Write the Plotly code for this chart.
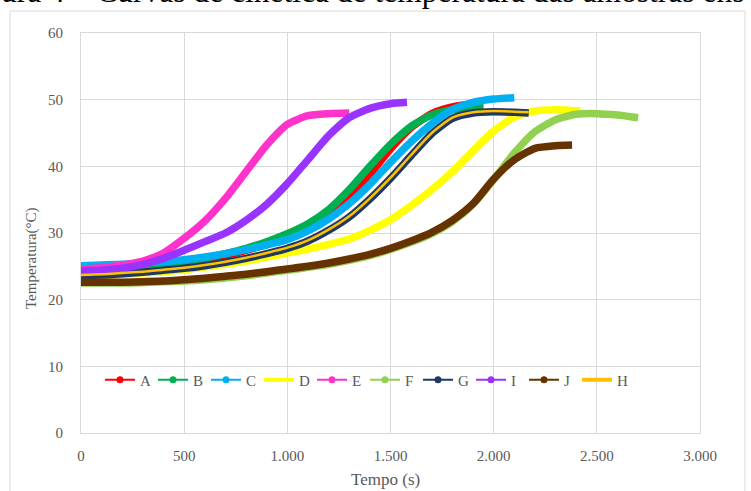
import plotly.graph_objects as go

# ---------------- data ----------------
series_names = ["A", "B", "C", "D", "E", "F", "G", "I", "J", "H"]
series_colors = ["#FF0000", "#00B050", "#00B0F0", "#FFFF00", "#FF33CC",
                 "#92D050", "#203864", "#9933FF", "#663300", "#FFC000"]

t_A = [0, 100, 200, 300, 400, 500, 600, 700, 800, 900, 1000, 1100, 1200, 1300, 1400, 1500, 1600, 1700, 1800, 1900, 1950]
T_A = [23.8, 23.9, 24.1, 24.4, 24.8, 25.3, 25.9, 26.6, 27.4, 28.3, 29.3, 30.8, 32.8, 35.6, 38.8, 42.6, 45.8, 47.9, 48.9, 49.3, 49.3]

t_B = [0, 100, 200, 300, 400, 500, 600, 700, 800, 900, 1000, 1100, 1200, 1300, 1400, 1500, 1600, 1700, 1800, 1900, 1950]
T_B = [24.0, 24.2, 24.4, 24.7, 25.1, 25.6, 26.2, 26.9, 27.7, 28.7, 29.9, 31.4, 33.5, 36.5, 40.0, 43.3, 46.0, 47.7, 48.5, 48.8, 48.9]

t_C = [0, 100, 200, 300, 400, 500, 600, 700, 800, 900, 1000, 1100, 1200, 1300, 1400, 1500, 1600, 1700, 1800, 1900, 2000, 2100]
T_C = [25.1, 25.2, 25.3, 25.5, 25.7, 26.0, 26.4, 26.9, 27.5, 28.2, 29.0, 30.3, 32.1, 34.4, 37.3, 40.6, 43.7, 46.4, 48.5, 49.6, 50.1, 50.3]

t_D = [0, 100, 200, 300, 400, 500, 600, 700, 800, 900, 1000, 1100, 1200, 1300, 1400, 1500, 1600, 1700, 1800, 1900, 2000, 2100, 2200, 2300, 2420]
T_D = [23.5, 23.6, 23.8, 24.0, 24.2, 24.5, 24.9, 25.3, 25.8, 26.4, 27.0, 27.6, 28.3, 29.1, 30.4, 32.0, 34.1, 36.5, 39.2, 42.3, 45.3, 47.4, 48.3, 48.5, 48.3]

t_E = [0, 100, 200, 300, 400, 500, 600, 700, 800, 900, 1000, 1100, 1200, 1300]
T_E = [24.6, 24.8, 25.2, 25.8, 27.0, 29.2, 31.8, 35.2, 39.2, 43.2, 46.3, 47.6, 47.9, 48.0]

t_F = [0, 200, 400, 600, 800, 1000, 1200, 1400, 1600, 1700, 1800, 1900, 2000, 2100, 2200, 2300, 2400, 2500, 2600, 2700]
T_F = [22.5, 22.5, 22.7, 23.0, 23.6, 24.4, 25.3, 26.6, 28.6, 29.9, 31.7, 34.3, 38.0, 42.0, 45.2, 47.0, 47.8, 47.9, 47.7, 47.3]

t_G = [0, 100, 200, 300, 400, 500, 600, 700, 800, 900, 1000, 1100, 1200, 1300, 1400, 1500, 1600, 1700, 1800, 1900, 2000, 2100, 2170]
T_G = [23.6, 23.7, 23.9, 24.1, 24.4, 24.7, 25.1, 25.6, 26.2, 26.9, 27.7, 28.8, 30.4, 32.4, 35.1, 38.2, 41.6, 44.9, 47.2, 48.0, 48.2, 48.1, 48.0]

t_I = [0, 100, 200, 300, 400, 500, 600, 700, 800, 900, 1000, 1100, 1200, 1300, 1400, 1500, 1580]
T_I = [24.3, 24.4, 24.7, 25.3, 26.2, 27.4, 28.7, 30.0, 31.9, 34.3, 37.4, 41.0, 44.6, 47.3, 48.7, 49.4, 49.6]

t_J = [0, 100, 200, 300, 400, 500, 600, 700, 800, 900, 1000, 1100, 1200, 1300, 1400, 1500, 1600, 1700, 1800, 1900, 2000, 2100, 2200, 2300, 2380]
T_J = [22.6, 22.6, 22.6, 22.7, 22.8, 23.0, 23.2, 23.5, 23.8, 24.2, 24.6, 25.0, 25.5, 26.1, 26.8, 27.7, 28.8, 30.1, 31.9, 34.4, 38.1, 41.0, 42.7, 43.1, 43.2]

t_H = [0, 100, 200, 300, 400, 500, 600, 700, 800, 900, 1000, 1100, 1200, 1300, 1400, 1500, 1600, 1700, 1800, 1900, 2000, 2100, 2170]
T_H = [23.7, 23.8, 24.0, 24.2, 24.5, 24.8, 25.2, 25.7, 26.3, 27.0, 27.8, 28.9, 30.5, 32.5, 35.2, 38.3, 41.7, 45.0, 47.3, 48.1, 48.3, 48.2, 48.1]

x_tickvals = [0, 500, 1000, 1500, 2000, 2500, 3000]
x_ticktext = ["0", "500", "1.000", "1.500", "2.000", "2.500", "3.000"]
y_tickvals = [0, 10, 20, 30, 40, 50, 60]

caption_text = "ura 4 – Curvas de cinética de temperatura das amostras ens"
x_title = "Tempo (s)"
y_title = "Temperatura(°C)"

# ---------------- figure ----------------
series_t = [t_A, t_B, t_C, t_D, t_E, t_F, t_G, t_I, t_J, t_H]
series_T = [T_A, T_B, T_C, T_D, T_E, T_F, T_G, T_I, T_J, T_H]
line_widths = [7.5, 7.5, 7.5, 7.5, 7.5, 7.5, 7.5, 7.5, 7.5, 2.5]

SERIF = "Liberation Serif, Times New Roman, serif"
GRAY = "#595959"
GRID = "#D9D9D9"

fig = go.Figure()

for name, col, tt, TT, lw in zip(series_names, series_colors, series_t, series_T, line_widths):
    fig.add_trace(go.Scatter(x=tt, y=TT, mode="lines", name=name, showlegend=False,
                             line=dict(color=col, width=lw, shape="spline", smoothing=0.6)))

# legend-only entries (line with marker, like the original)
for name, col in zip(series_names, series_colors):
    no_marker = name in ("D", "H")
    fig.add_trace(go.Scatter(x=[None], y=[None], name=name,
                             mode="lines" if no_marker else "lines+markers",
                             line=dict(color=col, width=4 if no_marker else 2),
                             marker=dict(color=col, size=7)))

W, H = 751, 491
L, R, T, B = 81, 51, 33, 58
pw, ph = W - L - R, H - T - B

def px_x(p):
    return (p - L) / pw

def px_y(p):
    return (H - B - p) / ph

fig.update_layout(
    width=W, height=H,
    margin=dict(l=L, r=R, t=T, b=B, pad=0),
    paper_bgcolor="white", plot_bgcolor="white",
    font=dict(family=SERIF, color=GRAY, size=15),
    showlegend=True,
    legend=dict(orientation="h", x=px_x(100), y=px_y(380), xanchor="left", yanchor="middle",
                bgcolor="rgba(0,0,0,0)", itemwidth=30, entrywidth=8, entrywidthmode="pixels",
                font=dict(family=SERIF, color=GRAY, size=15), traceorder="normal",
                itemclick=False),
    xaxis=dict(range=[0, 3000], tickvals=x_tickvals, ticktext=x_ticktext,
               showgrid=True, gridcolor=GRID, gridwidth=1,
               showline=True, linecolor=GRID, linewidth=1, mirror=True,
               ticks="outside", ticklen=9, tickcolor="rgba(0,0,0,0)",
               zeroline=False, tickfont=dict(family=SERIF, color=GRAY, size=15)),
    yaxis=dict(range=[0, 60], tickvals=y_tickvals,
               showgrid=True, gridcolor=GRID, gridwidth=1,
               showline=True, linecolor=GRID, linewidth=1, mirror=True,
               ticks="outside", ticklen=14, tickcolor="rgba(0,0,0,0)",
               zeroline=False, tickfont=dict(family=SERIF, color=GRAY, size=15)),
)

# outer chart border
fig.add_shape(type="rect", xref="paper", yref="paper",
              x0=px_x(10), x1=px_x(745), y0=px_y(500), y1=px_y(11),
              line=dict(color=GRID, width=1), fillcolor="rgba(0,0,0,0)", layer="below")

# axis titles
fig.add_annotation(text=x_title, xref="paper", yref="paper", x=px_x(385), y=px_y(479),
                   xanchor="center", yanchor="middle", showarrow=False,
                   font=dict(family=SERIF, color=GRAY, size=17))
fig.add_annotation(text=y_title, xref="paper", yref="paper", x=px_x(31), y=px_y(258),
                   xanchor="center", yanchor="middle", showarrow=False, textangle=-90,
                   font=dict(family=SERIF, color=GRAY, size=15))

# caption cut off at the top of the picture (as in the original page crop)
fig.add_annotation(text=caption_text, xref="paper", yref="paper", x=px_x(-1), y=px_y(-8),
                   xanchor="left", yanchor="middle", showarrow=False,
                   font=dict(family=SERIF, color="black", size=31.5))

fig.write_html("out.html", config={"displayModeBar": False},
               post_script="document.body.style.margin='0';")
